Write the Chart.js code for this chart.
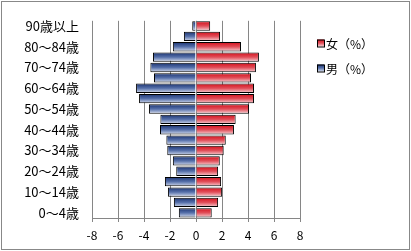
<!DOCTYPE html>
<html>
<head>
<meta charset="utf-8">
<script src="https://cdn.jsdelivr.net/npm/chart.js@4"></script>
<style>
html,body{margin:0;padding:0;background:#fff;}
#wrap{width:411px;height:251px;position:relative;}
</style>
</head>
<body>
<div id="wrap"><canvas id="c" width="411" height="251"></canvas></div>
<script>
// categories, bottom to top
const ageLabels = ['0～4歳','5～9歳','10～14歳','15～19歳','20～24歳','25～29歳','30～34歳','35～39歳','40～44歳','45～49歳','50～54歳','55～59歳','60～64歳','65～69歳','70～74歳','75～79歳','80～84歳','85～89歳','90歳以上'];
const maleValues = [-1.32,-1.70,-2.16,-2.39,-1.52,-1.78,-2.21,-2.28,-2.77,-2.74,-3.62,-4.38,-4.61,-3.23,-3.51,-3.31,-1.78,-0.93,-0.29];
const femaleValues = [1.21,1.70,2.01,1.93,1.70,1.83,2.13,2.29,2.92,3.05,4.08,4.46,4.46,4.23,4.61,4.84,3.46,1.85,1.09];
const xTicks = [-8,-6,-4,-2,0,2,4,6,8];
const seriesNames = ['女（%）','男（%）'];

const FONT = "'Noto Sans CJK JP','Noto Sans',sans-serif";
const BAR_PCT = 0.9;
const blueStops = ['#1a3270','#5670aa','#d6ddee'];
const redStops = ['#d40f1b','#e14e59','#f7d4d8'];

function makeGrad(ctx, stops, y0, y1) {
  const g = ctx.createLinearGradient(0, y0, 0, y1);
  g.addColorStop(0, stops[0]);
  g.addColorStop(0.5, stops[1]);
  g.addColorStop(1, stops[2]);
  return g;
}
function barFill(stops) {
  return function(c) {
    const chart = c.chart;
    const ys = chart.scales && chart.scales.y;
    if (!ys || c.type !== 'data' || !ys.height) return stops[1];
    const center = ys.getPixelForValue(c.dataIndex);
    const half = ys.height / ageLabels.length * BAR_PCT / 2;
    return makeGrad(chart.ctx, stops, center - half, center + half);
  };
}

const framePlugin = {
  id: 'frame',
  beforeDraw(chart) {
    const ctx = chart.ctx;
    ctx.save();
    ctx.fillStyle = '#fff';
    ctx.fillRect(0, 0, chart.width, chart.height);
    ctx.restore();
  },
  afterDraw(chart) {
    const ctx = chart.ctx;
    ctx.save();
    ctx.strokeStyle = '#888';
    ctx.lineWidth = 1;
    ctx.strokeRect(1.5, 1.5, 408, 248);
    // legend
    const items = [
      {text: seriesNames[0], stops: redStops},
      {text: seriesNames[1], stops: blueStops}
    ];
    const lx = 317, ly0 = 43, step = 25, bs = 7;
    ctx.font = '12px ' + FONT;
    ctx.textBaseline = 'middle';
    ctx.textAlign = 'left';
    items.forEach((it, i) => {
      const cy = ly0 + i * step;
      ctx.fillStyle = makeGrad(ctx, it.stops, cy - bs/2, cy + bs/2);
      ctx.fillRect(lx, cy - bs/2, bs, bs);
      ctx.strokeStyle = '#000';
      ctx.strokeRect(lx + 0.5, cy - bs/2 + 0.5, bs, bs);
      ctx.fillStyle = '#000';
      ctx.fillText(it.text, lx + bs + 2, cy + 1);
    });
    ctx.restore();
  }
};

new Chart(document.getElementById('c'), {
  type: 'bar',
  data: {
    labels: ageLabels,
    datasets: [
      {label: seriesNames[1], data: maleValues, backgroundColor: barFill(blueStops), borderColor: '#000', borderWidth: 1, barPercentage: BAR_PCT, categoryPercentage: 1},
      {label: seriesNames[0], data: femaleValues, backgroundColor: barFill(redStops), borderColor: '#000', borderWidth: 1, barPercentage: BAR_PCT, categoryPercentage: 1}
    ]
  },
  options: {
    indexAxis: 'y',
    responsive: false,
    animation: false,
    devicePixelRatio: 1,
    layout: {padding: {left: 2, top: 16, right: 111, bottom: 0}},
    plugins: {legend: {display: false}, tooltip: {enabled: false}},
    scales: {
      x: {
        stacked: true,
        min: -8, max: 8,
        afterBuildTicks(s) { s.ticks = xTicks.map(v => ({value: v})); },
        afterFit(s) { s.height = 33; },
        grid: {color: '#868686', lineWidth: 1, drawTicks: true, tickLength: 4, tickColor: '#868686'},
        border: {display: true, color: '#868686'},
        ticks: {color: '#000', font: {family: FONT, size: 12}, padding: 6, maxRotation: 0}
      },
      y: {
        stacked: true,
        reverse: true,
        afterFit(s) { s.width = 90; },
        grid: {display: false, drawTicks: false},
        border: {display: false},
        ticks: {
          autoSkip: false,
          color: '#000',
          font: {family: FONT, size: 13},
          padding: 13,
          callback: (v, i) => (i % 2 === 0 ? ageLabels[i] : '')
        }
      }
    }
  },
  plugins: [framePlugin]
});
</script>
</body>
</html>
